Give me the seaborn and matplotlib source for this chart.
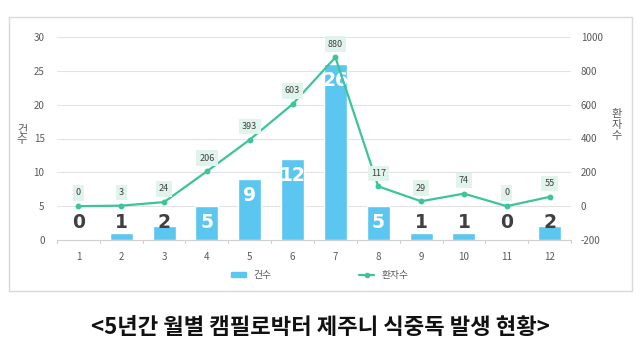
import matplotlib
matplotlib.use("Agg")
import matplotlib.pyplot as plt
import seaborn as sns
import numpy as np
import pandas as pd
from matplotlib.patches import Rectangle
from matplotlib.lines import Line2D

months = ["1", "2", "3", "4", "5", "6", "7", "8", "9", "10", "11", "12"]
cases = [0, 1, 2, 5, 9, 12, 26, 5, 1, 1, 0, 2]
patients = [0, 3, 24, 206, 393, 603, 880, 117, 29, 74, 0, 55]
left_ticks = [0, 5, 10, 15, 20, 25, 30]
right_ticks = [-200, 0, 200, 400, 600, 800, 1000]

sns.set_theme(style="white")
plt.rcParams["font.family"] = ["Noto Sans CJK KR", "DejaVu Sans"]
plt.rcParams["axes.unicode_minus"] = False

BAR = "#5bc6ef"
LINE = "#3cc49a"
GRAY = "#595959"

df = pd.DataFrame({"month": months, "cases": cases, "patients": patients})

fig = plt.figure(figsize=(6.4, 3.45), dpi=100)
ax = fig.add_axes([57 / 640, (345 - 240) / 345, (571 - 57) / 640, (240 - 37) / 345])

sns.barplot(data=df, x="month", y="cases", order=months, color=BAR, width=0.54,
            saturation=1, ax=ax, zorder=2)
ax.set_ylim(0, 30)
ax.set_yticks(left_ticks)
ax.yaxis.grid(True, color="#e3e3e3", linewidth=0.8)
ax.set_axisbelow(True)
for s in ["top", "right", "left"]:
    ax.spines[s].set_visible(False)
ax.spines["bottom"].set_color("#d0d0d0")
ax.spines["bottom"].set_linewidth(0.8)
ax.tick_params(axis="y", labelsize=7, colors=GRAY, length=0, pad=9)
ax.tick_params(axis="x", labelsize=7, colors=GRAY, length=0, pad=9)
for i in range(len(months) + 1):
    ax.plot([i - 0.5, i - 0.5], [0, -0.5], color="#d0d0d0", lw=0.8, clip_on=False)
ax.set_xlabel("")
ax.set_ylabel("")
ax.set_xlim(-0.5, len(months) - 0.5)

# bar value labels
for i, v in enumerate(cases):
    big = v >= 5
    y = max(v, 5)
    ax.annotate(str(v), (i, y), xytext=(0, -12), textcoords="offset points",
                ha="center", va="center", fontsize=13.5,
                fontweight="bold", color="white" if big else "#404040",
                family="DejaVu Sans", zorder=5)

ax2 = ax.twinx()
sns.pointplot(x=months, y=patients, order=months, color=LINE, markers="o",
              markersize=3, linewidth=1.6, ax=ax2, zorder=4)
ax2.set_ylim(-200, 1000)
ax2.set_yticks(right_ticks)
for s in ["top", "right", "left", "bottom"]:
    ax2.spines[s].set_visible(False)
ax2.tick_params(axis="y", labelsize=7, colors=GRAY, length=0, pad=7)
ax2.set_ylabel("")
ax2.set_xlim(-0.5, len(months) - 0.5)

for i, v in enumerate(patients):
    ax2.annotate(str(v), (i, v), xytext=(0, 9.5), textcoords="offset points",
                 ha="center", va="center", fontsize=6.5, color="#404040",
                 bbox=dict(boxstyle="square,pad=0.35", fc="#e1f4ec", ec="none"), zorder=6)

fig.text(22 / 640, 1 - 135 / 345, "건\n수", ha="center", va="center", fontsize=8,
         color=GRAY, linespacing=1.1)
fig.text(617 / 640, 1 - 125 / 345, "환\n자\n수", ha="center", va="center", fontsize=8,
         color=GRAY, linespacing=1.1)

handles = [Rectangle((0, 0), 1, 1, color=BAR),
           Line2D([0], [0], color=LINE, lw=1.6, marker="o", markersize=3)]
fig.legend(handles, ["건수", "환자수"], loc="center", bbox_to_anchor=(320 / 640, 1 - 275 / 345),
           ncol=2, frameon=False, fontsize=7, columnspacing=9, handlelength=1.5,
           handleheight=0.5, labelcolor=GRAY)

fig.patches.append(Rectangle((8.5 / 640, 1 - 291 / 345), (632 - 8.5) / 640, (291 - 17) / 345,
                             transform=fig.transFigure, fill=False, ec="#d9d9d9", lw=1))

fig.text(0.5, 1 - 328 / 345, "<5년간 월별 캠필로박터 제주니 식중독 발생 현황>", ha="center",
         va="center", fontsize=16, fontweight="bold", color="#111111")

fig.savefig("out.png", dpi=100)
